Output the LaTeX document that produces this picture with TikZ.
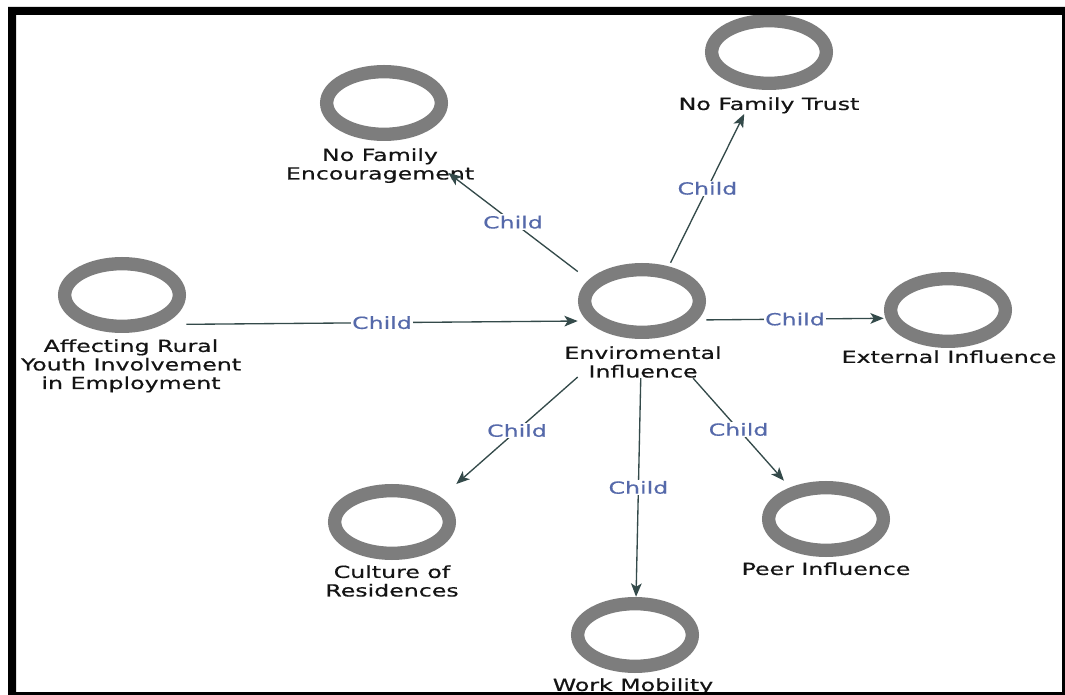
\documentclass[tikz,border=0pt]{standalone}
\usepackage{fontspec}
\newfontfamily\dgfont[FakeStretch=1.42,FakeBold=0.5]{DejaVu Sans}
\usetikzlibrary{shapes.geometric,fit,arrows.meta}
\definecolor{ringgray}{RGB}{125,125,125}
\definecolor{edgecol}{RGB}{52,74,74}
\definecolor{labblue}{RGB}{85,105,170}
\definecolor{txtcol}{RGB}{20,20,20}
\begin{document}
\begin{tikzpicture}[x=0.75pt,y=-0.75pt,
  ring/.style={ellipse, draw=ringgray, line width=10pt, minimum width=86pt, minimum height=47pt, inner sep=0pt},
  lbl/.style={anchor=north, inner sep=0pt, align=center, text=txtcol, font=\dgfont\fontsize{12.5}{13.9}\selectfont},
  grp/.style={inner sep=0pt},
  edge/.style={draw=edgecol, line width=1pt, -{Stealth[length=10pt,width=8pt,inset=2.5pt]}},
  lab/.style={fill=white, text=labblue, inner sep=1pt, font=\dgfont\fontsize{12.5}{13.9}\selectfont}]
\fill[white] (0,0) rectangle (1065,695);
\useasboundingbox (0,0) rectangle (1065,695);

% circles
\node[ring] (nfec) at (384,103) {};
\node[ring] (nftc) at (769,52) {};
\node[ring] (affc) at (122,295) {};
\node[ring] (envc) at (642,301) {};
\node[ring] (extc) at (948,310) {};
\node[ring] (culc) at (392,522) {};
\node[ring] (wmc) at (635,635) {};
\node[ring] (peerc) at (826,519) {};

% texts
\node[lbl] (nfet) at (380,148) {No Family\\Encouragement};
\node[lbl] (nftt) at (769,97) {No Family Trust};
\node[lbl] (afft) at (131,339) {Affecting Rural\\Youth Involvement\\in Employment};
\node[lbl] (envt) at (643,346) {Enviromental\\Influence};
\node[lbl] (extt) at (949,350) {External Influence};
\node[lbl] (cult) at (392,565) {Culture of\\Residences};
\node[lbl] (wmt) at (633,678) {Work Mobility};
\node[lbl] (peert) at (826,562) {Peer Influence};

% groups (circle + caption)
\node[grp, fit=(nfec)(nfet.south)] (nfe) {};
\node[grp, fit=(nftc)(nftt.south)] (nft) {};
\node[grp, fit=(affc)(afft.south)] (aff) {};
\node[grp, fit=(envc)(envt.south)] (env) {};
\node[grp, fit=(extc)(extt.south)] (ext) {};
\node[grp, fit=(culc)(cult.south)] (cul) {};
\node[grp, fit=(wmc)(wmt.south)] (wm) {};
\node[grp, fit=(peerc)(peert.south)] (peer) {};

% connectors
\draw[edge] (aff) -- node[lab] {Child} (env);
\draw[edge] (env) -- node[lab] {Child} (ext);
\draw[edge] (env) -- node[lab] {Child} (nfe);
\draw[edge] (env) -- node[lab] {Child} (nft);
\draw[edge] (env) -- node[lab] {Child} (cul);
\draw[edge] (env) -- node[lab] {Child} (wm);
\draw[edge] (env) -- node[lab] {Child} (peer);

% frame
\fill[black, even odd rule] (8,7) rectangle (1065,695) (16,15) rectangle (1062,692);
\end{tikzpicture}
\end{document}
